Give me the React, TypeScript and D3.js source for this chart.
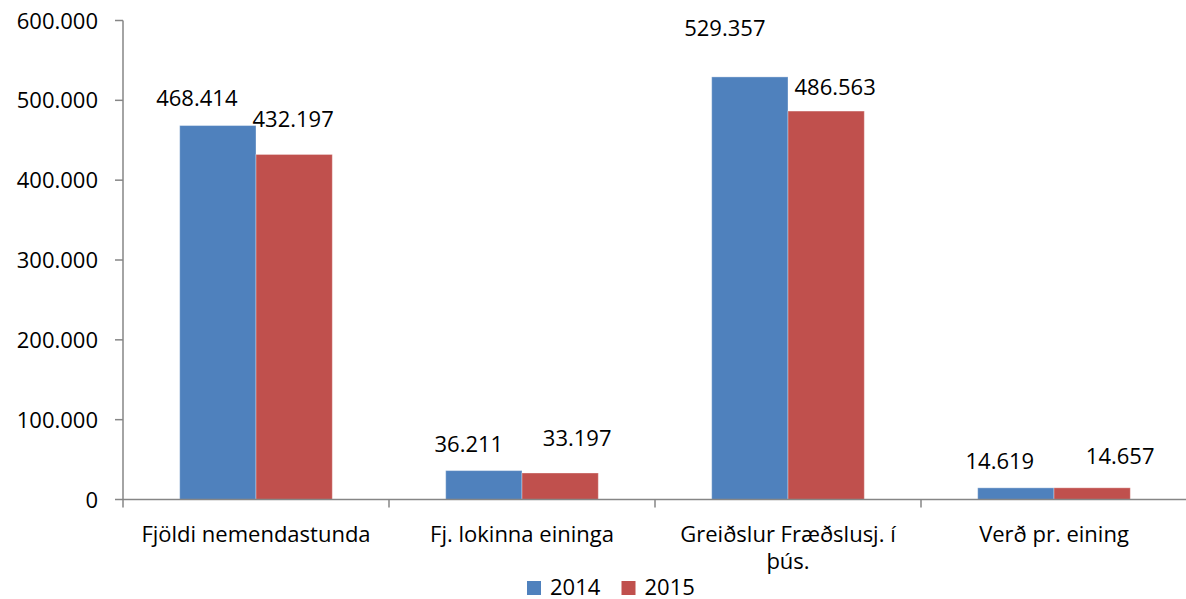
import React from 'react';
import * as d3 from 'd3';

// chart data
const categories = [
  'Fjöldi nemendastunda',
  'Fj. lokinna eininga',
  'Greiðslur Fræðslusj. í þús.',
  'Verð pr. eining',
];
const categoryLines = [
  ['Fjöldi nemendastunda'],
  ['Fj. lokinna eininga'],
  ['Greiðslur Fræðslusj. í', 'þús.'],
  ['Verð pr. eining'],
];
const seriesNames = ['2014', '2015'];
const values2014 = [468414, 36211, 529357, 14619];
const values2015 = [432197, 33197, 486563, 14657];
const yTicks = [0, 100000, 200000, 300000, 400000, 500000, 600000];

// manual label placement (Excel-style dragged labels), relative to bar top-center
const nudge2014 = [[-21, -20], [-15, -19], [-25, -41], [-16, -19]];
const nudge2015 = [[-1, -27], [17, -27], [9, -16], [28, -24]];

const colors = ['#4F81BD', '#C0504D'];
const W = 1186;
const H = 599;
const FONT = '"Open Sans", sans-serif';

const fmt = d3.formatLocale({ decimal: ',', thousands: '.', grouping: [3], currency: ['', ''] }).format(',');

export default function App() {
  const margin = { left: 123, top: 20.5, bottom: 499.5 };
  const x0 = d3.scaleBand().domain(categories).range([margin.left, margin.left + 266 * 4]).padding(0);
  const x1 = d3.scaleBand().domain(seriesNames).range([0, x0.bandwidth()]).paddingInner(0).paddingOuter(0.743);
  const y = d3.scaleLinear().domain([0, 600000]).range([margin.bottom, margin.top]);

  const series = [values2014, values2015];
  const nudges = [nudge2014, nudge2015];

  return (
    <svg width={W} height={H} style={{ position: 'absolute', left: 0, top: 0, background: '#fff' }} fontFamily={FONT}>
      {/* y axis */}
      <line x1={margin.left} x2={margin.left} y1={y(600000)} y2={y(0)} stroke="#868686" strokeWidth={1.5} />
      {yTicks.map(t => (
        <g key={t}>
          <line x1={margin.left - 8} x2={margin.left} y1={y(t)} y2={y(t)} stroke="#868686" strokeWidth={1.5} />
          <text x={98} y={y(t) + 8} textAnchor="end" fontSize={22} fill="#000">{fmt(t)}</text>
        </g>
      ))}

      {/* bars */}
      {series.map((vals, si) =>
        vals.map((v, ci) => {
          const bx = x0(categories[ci])! + x1(seriesNames[si])!;
          return (
            <rect key={`${si}-${ci}`} x={bx} y={y(v)} width={x1.bandwidth()} height={y(0) - y(v)}
              fill={colors[si]} stroke="#fff" strokeOpacity={0.35} strokeWidth={1} />
          );
        })
      )}

      {/* x axis */}
      <line x1={margin.left} x2={W} y1={y(0)} y2={y(0)} stroke="#868686" strokeWidth={1.5} />
      {categories.map(c => (
        <line key={c} x1={x0(c)!} x2={x0(c)!} y1={y(0)} y2={y(0) + 8} stroke="#868686" strokeWidth={1.5} />
      ))}
      {categories.map((c, i) => (
        <text key={c} x={x0(c)! + x0.bandwidth() / 2} textAnchor="middle" fontSize={22} fill="#000">
          {categoryLines[i].map((ln, li) => (
            <tspan key={li} x={x0(c)! + x0.bandwidth() / 2} y={542 + li * 27}>{ln}</tspan>
          ))}
        </text>
      ))}

      {/* data labels */}
      {series.map((vals, si) =>
        vals.map((v, ci) => {
          const cx = x0(categories[ci])! + x1(seriesNames[si])! + x1.bandwidth() / 2;
          return (
            <text key={`l${si}-${ci}`} x={cx + nudges[si][ci][0]} y={y(v) + nudges[si][ci][1]}
              textAnchor="middle" fontSize={22} fill="#000">{fmt(v)}</text>
          );
        })
      )}

      {/* legend */}
      {seriesNames.map((s, i) => (
        <g key={s} transform={`translate(${527 + i * 94.5},0)`}>
          <rect x={0} y={581} width={14} height={14} fill={colors[i]} />
          <text x={23} y={595} fontSize={22} fill="#000">{s}</text>
        </g>
      ))}
    </svg>
  );
}
